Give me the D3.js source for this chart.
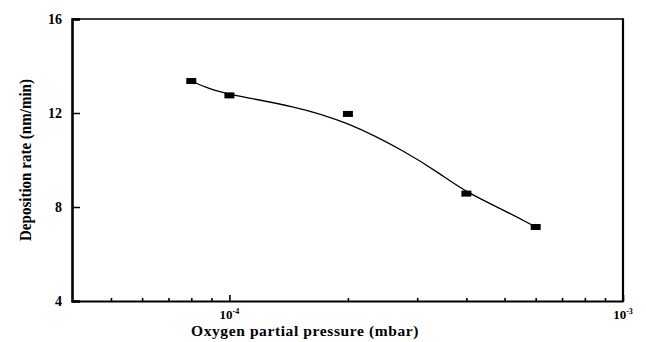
<!DOCTYPE html>
<html><head><meta charset="utf-8">
<script src="https://cdn.jsdelivr.net/npm/d3@7"></script>
<style>
body{margin:0;background:#fff;}
text{font-family:"Liberation Serif","Times New Roman",serif;fill:#000;}
</style></head>
<body><svg id="c" width="646" height="342"></svg>
<script>
// measured data
const pressure = [8e-5, 1e-4, 2e-4, 4e-4, 6e-4];
const rate = [13.36, 12.75, 11.96, 8.57, 7.15];
// fitted guide curve
const fitP = [8e-5, 8.8e-5, 1e-4, 1.46e-4, 2e-4, 2.84e-4, 3.44e-4, 4e-4, 5.1e-4, 6e-4];
const fitR = [13.36, 13.05, 12.77, 12.3, 11.62, 10.3, 9.4, 8.62, 7.78, 7.15];
const yTicks = [4, 8, 12, 16];
const xMajor = [1e-4, 1e-3];
const xMinor = [5e-5, 6e-5, 7e-5, 8e-5, 9e-5, 2e-4, 3e-4, 4e-4, 5e-4, 6e-4, 7e-4, 8e-4, 9e-4];

const L = 72, R = 623, T = 19, B = 301;
const svg = d3.select("#c");
const x = d3.scaleLog().domain([Math.pow(10, -4.4), 1e-3]).range([L, R]);
const y = d3.scaleLinear().domain([4, 16]).range([B, T]);

// frame
svg.append("line").attr("x1", L).attr("x2", R).attr("y1", T).attr("y2", T).attr("stroke", "#000").attr("stroke-width", 1.5);
svg.append("line").attr("x1", R).attr("x2", R).attr("y1", T - 0.75).attr("y2", B + 1).attr("stroke", "#000").attr("stroke-width", 2.2);

// y axis
const ya = svg.append("g").attr("transform", `translate(${L},0)`)
  .call(d3.axisRight(y).tickValues(yTicks).tickSize(8).tickFormat(""));
ya.select(".domain").attr("stroke-width", 2.6);
ya.selectAll(".tick line").attr("stroke-width", 1.5);
svg.selectAll(".ylab").data(yTicks).enter().append("text")
  .attr("x", L - 10).attr("y", d => y(d) + 4.5).attr("text-anchor", "end")
  .attr("font-size", 14).attr("font-weight", "bold").text(d => d);

// x axis
const xa = svg.append("g").attr("transform", `translate(0,${B})`)
  .call(d3.axisTop(x).tickValues(xMinor).tickSize(3).tickSizeOuter(0).tickFormat(""));
xa.select(".domain").attr("stroke-width", 2.2);
xa.selectAll(".tick line").attr("stroke-width", 1.6);
const xm = svg.append("g").attr("transform", `translate(0,${B})`)
  .call(d3.axisTop(x).tickValues(xMajor).tickSize(6).tickSizeOuter(0).tickFormat(""));
xm.select(".domain").remove();
xm.selectAll(".tick line").attr("stroke-width", 1.6);

const xl = svg.selectAll(".xlab").data(xMajor).enter().append("text")
  .attr("x", d => x(d)).attr("y", B + 18).attr("text-anchor", "middle")
  .attr("font-size", 13).attr("font-weight", "bold");
xl.append("tspan").text("10");
xl.append("tspan").attr("dy", -5).attr("font-size", 8).text(d => Math.round(Math.log10(d)));

// axis titles
svg.append("text").attr("x", 305).attr("y", 336).attr("text-anchor", "middle")
  .attr("font-size", 15.5).attr("font-weight", "bold").attr("letter-spacing", 0.6)
  .text("Oxygen partial pressure (mbar)");
svg.append("text").attr("transform", "translate(31,160) rotate(-90)").attr("text-anchor", "middle")
  .attr("font-size", 17).attr("font-weight", "bold")
  .attr("textLength", 162).attr("lengthAdjust", "spacingAndGlyphs")
  .text("Deposition rate (nm/min)");

// fit curve
const fit = fitP.map((p, i) => [p, fitR[i]]);
svg.append("path").datum(fit)
  .attr("d", d3.line().x(d => x(d[0])).y(d => y(d[1])).curve(d3.curveBasis))
  .attr("fill", "none").attr("stroke", "#000").attr("stroke-width", 1.3);

// markers
svg.selectAll(".pt").data(pressure).enter().append("rect")
  .attr("x", d => x(d) - 5).attr("y", (d, i) => y(rate[i]) - 3)
  .attr("width", 10).attr("height", 6).attr("fill", "#000");
</script></body></html>
